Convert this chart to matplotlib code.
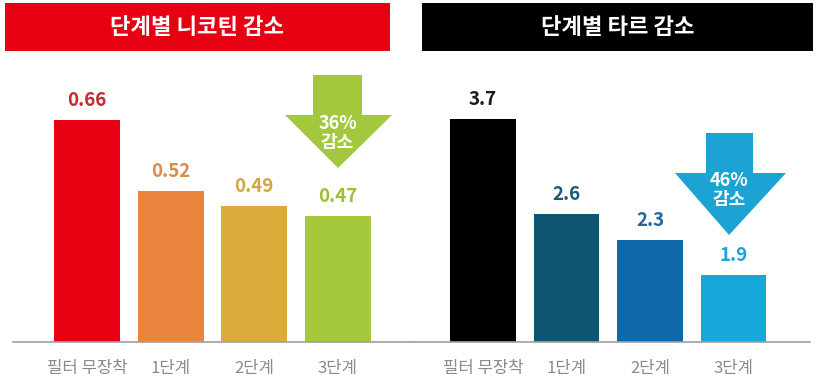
import matplotlib
matplotlib.use('Agg')
import matplotlib.pyplot as plt
from matplotlib.patches import Rectangle, Polygon
import numpy as np

plt.rcParams['font.family'] = ['Noto Sans CJK KR', 'DejaVu Sans']

categories = ['필터 무장착', '1단계', '2단계', '3단계']

nicotine = [0.66, 0.52, 0.49, 0.47]
nicotine_labels = ['0.66', '0.52', '0.49', '0.47']
nicotine_title = '단계별 니코틴 감소'
nicotine_drop = '36%\n감소'

tar = [3.7, 2.6, 2.3, 1.9]
tar_labels = ['3.7', '2.6', '2.3', '1.9']
tar_title = '단계별 타르 감소'
tar_drop = '46%\n감소'

nic_colors = ['#e60012', '#e8843c', '#ddab3a', '#a6c93c']
nic_text_colors = ['#c42a30', '#dc8a50', '#d2a640', '#9dc03c']
tar_colors = ['#000000', '#0e5572', '#0f69a8', '#15a8d8']
tar_text_colors = ['#1a1a1a', '#1d5a78', '#1f69a2', '#1ea4d4']

W, H = 817, 386
fig = plt.figure(figsize=(W / 100, H / 100), dpi=100)


def px_rect(x0, y0, x1, y1):
    # pixel box (top-left origin) -> figure fraction [left, bottom, width, height]
    return [x0 / W, 1 - y1 / H, (x1 - x0) / W, (y1 - y0) / H]


def px(x, y):
    return (x / W, 1 - y / H)


def panel(rect, xlim, ylim, values, labels, colors, text_colors):
    ax = fig.add_axes(rect)
    x = np.arange(len(values))
    ax.bar(x, np.array(values) - ylim[0], bottom=ylim[0], width=0.79, color=colors)
    for i, v in enumerate(values):
        ax.annotate(labels[i], (x[i], v), xytext=(0, 14), textcoords='offset points',
                    ha='center', va='center', fontsize=13.5, fontweight='bold',
                    color=text_colors[i])
    ax.set_xlim(*xlim)
    ax.set_ylim(*ylim)
    ax.axhline(ylim[0], color='#a0a0a0', lw=1.2, clip_on=False)
    for s in ax.spines.values():
        s.set_visible(False)
    ax.set_yticks([])
    ax.set_xticks(x)
    ax.set_xticklabels(categories, fontsize=12, color='#8a8a8a')
    ax.tick_params(axis='x', length=0, pad=13)
    ax.patch.set_alpha(0)
    return ax


panel(px_rect(13, 60, 410, 342), (-0.884, 3.861), (0.22, 0.779),
      nicotine, nicotine_labels, nic_colors, nic_text_colors)
panel(px_rect(410, 60, 810, 342), (-0.874, 3.916), (1.128, 4.38),
      tar, tar_labels, tar_colors, tar_text_colors)

# title boxes
for (x0, x1, color, title) in [(5, 390, '#e60012', nicotine_title),
                               (422, 813, '#000000', tar_title)]:
    l, b, w, h = px_rect(x0, 3, x1, 51)
    fig.patches.append(Rectangle((l, b), w, h, transform=fig.transFigure,
                                 facecolor=color, edgecolor='none'))
    fig.text(l + w / 2, b + h / 2, title, ha='center', va='center',
             color='white', fontsize=16, fontweight='bold')


# reduction arrows
def arrow(sx0, sx1, top, head_y, hx0, hx1, tip, color, text, ty):
    pts = [(sx0, top), (sx1, top), (sx1, head_y), (hx1, head_y), tip,
           (hx0, head_y), (sx0, head_y)]
    fig.patches.append(Polygon([px(*p) for p in pts], closed=True,
                               transform=fig.transFigure, facecolor=color,
                               edgecolor='none'))
    fig.text(*px((sx0 + sx1) / 2, ty), text, ha='center', va='center',
             color='white', fontsize=13, fontweight='bold', linespacing=1.05)


arrow(313, 362, 75, 115, 285, 392, (338, 168), '#a3c83d', nicotine_drop, 133)
arrow(706, 753, 133, 173, 675, 786, (729, 235), '#1ba3d3', tar_drop, 190)

fig.savefig('out.png', dpi=100, facecolor='white')
